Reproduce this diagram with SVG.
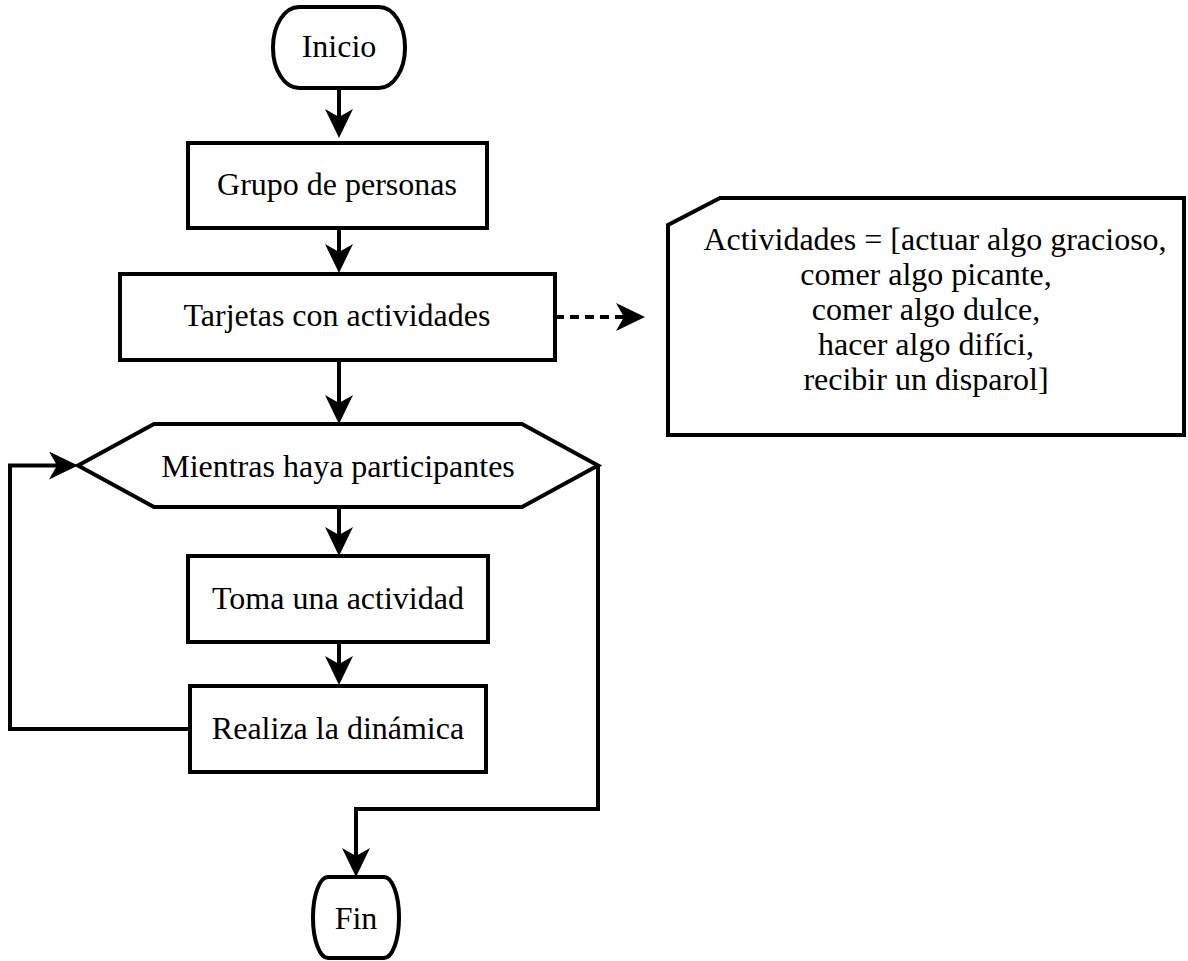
<svg xmlns="http://www.w3.org/2000/svg" width="1188" height="961" viewBox="0 0 1188 961">
<style>
.shape{fill:#fff;stroke:#000;stroke-width:4}
.lbl{font-family:"Liberation Serif","Times New Roman",serif;font-size:32px;fill:#000;text-anchor:middle}
.conn{fill:none;stroke:#000;stroke-width:4}
.dash{stroke-dasharray:9 6}
</style>
<defs>
<marker id="arr" markerUnits="userSpaceOnUse" markerWidth="30" markerHeight="30" refX="10" refY="14" orient="auto" viewBox="0 0 30 30">
<path d="M0,0 L29,14 L0,28 L8,14 Z" fill="#000"/>
</marker>
</defs>
<rect width="1188" height="961" fill="#fff"/>
<g id="connectors">
<path class="conn" d="M339,88 V119" marker-end="url(#arr)"/>
<path class="conn" d="M339,228 V254" marker-end="url(#arr)"/>
<path class="conn" d="M339,360 V405" marker-end="url(#arr)"/>
<path class="conn" d="M339,507 V537" marker-end="url(#arr)"/>
<path class="conn" d="M339,642 V666" marker-end="url(#arr)"/>
<path class="conn" d="M190,729 H10 V465.5 H59" marker-end="url(#arr)"/>
<path class="conn" d="M598,465.5 V809 H356 V858" marker-end="url(#arr)"/>
<path class="conn dash" d="M555,317 H626" marker-end="url(#arr)"/>
</g>
<g id="inicio">
<rect class="shape" x="273" y="7" width="132" height="81" rx="26" ry="40"/>
<text class="lbl" x="339" y="57">Inicio</text>
</g>
<g id="grupo">
<rect class="shape" x="188" y="143" width="299" height="85"/>
<text class="lbl" x="337" y="195">Grupo de personas</text>
</g>
<g id="tarjetas">
<rect class="shape" x="120" y="274" width="435" height="86"/>
<text class="lbl" x="337" y="326">Tarjetas con actividades</text>
</g>
<g id="actividades">
<path class="shape" d="M720,198 H1184 V435 H668 V225 Z"/>
<text class="lbl" x="935" y="250">Actividades = [actuar algo gracioso,</text>
<text class="lbl" x="926" y="285">comer algo picante,</text>
<text class="lbl" x="926" y="320">comer algo dulce,</text>
<text class="lbl" x="926" y="355">hacer algo difíci,</text>
<text class="lbl" x="926" y="390">recibir un disparol]</text>
</g>
<g id="mientras">
<polygon class="shape" points="78,465.5 154,424 522,424 598,465.5 522,507 154,507"/>
<text class="lbl" x="338" y="477">Mientras haya participantes</text>
</g>
<g id="toma">
<rect class="shape" x="188" y="556" width="300" height="86"/>
<text class="lbl" x="338" y="609">Toma una actividad</text>
</g>
<g id="realiza">
<rect class="shape" x="190" y="686" width="296" height="86"/>
<text class="lbl" x="338" y="739">Realiza la dinámica</text>
</g>
<g id="fin">
<rect class="shape" x="313" y="877" width="86" height="81" rx="15" ry="40"/>
<text class="lbl" x="356" y="929">Fin</text>
</g>
</svg>
